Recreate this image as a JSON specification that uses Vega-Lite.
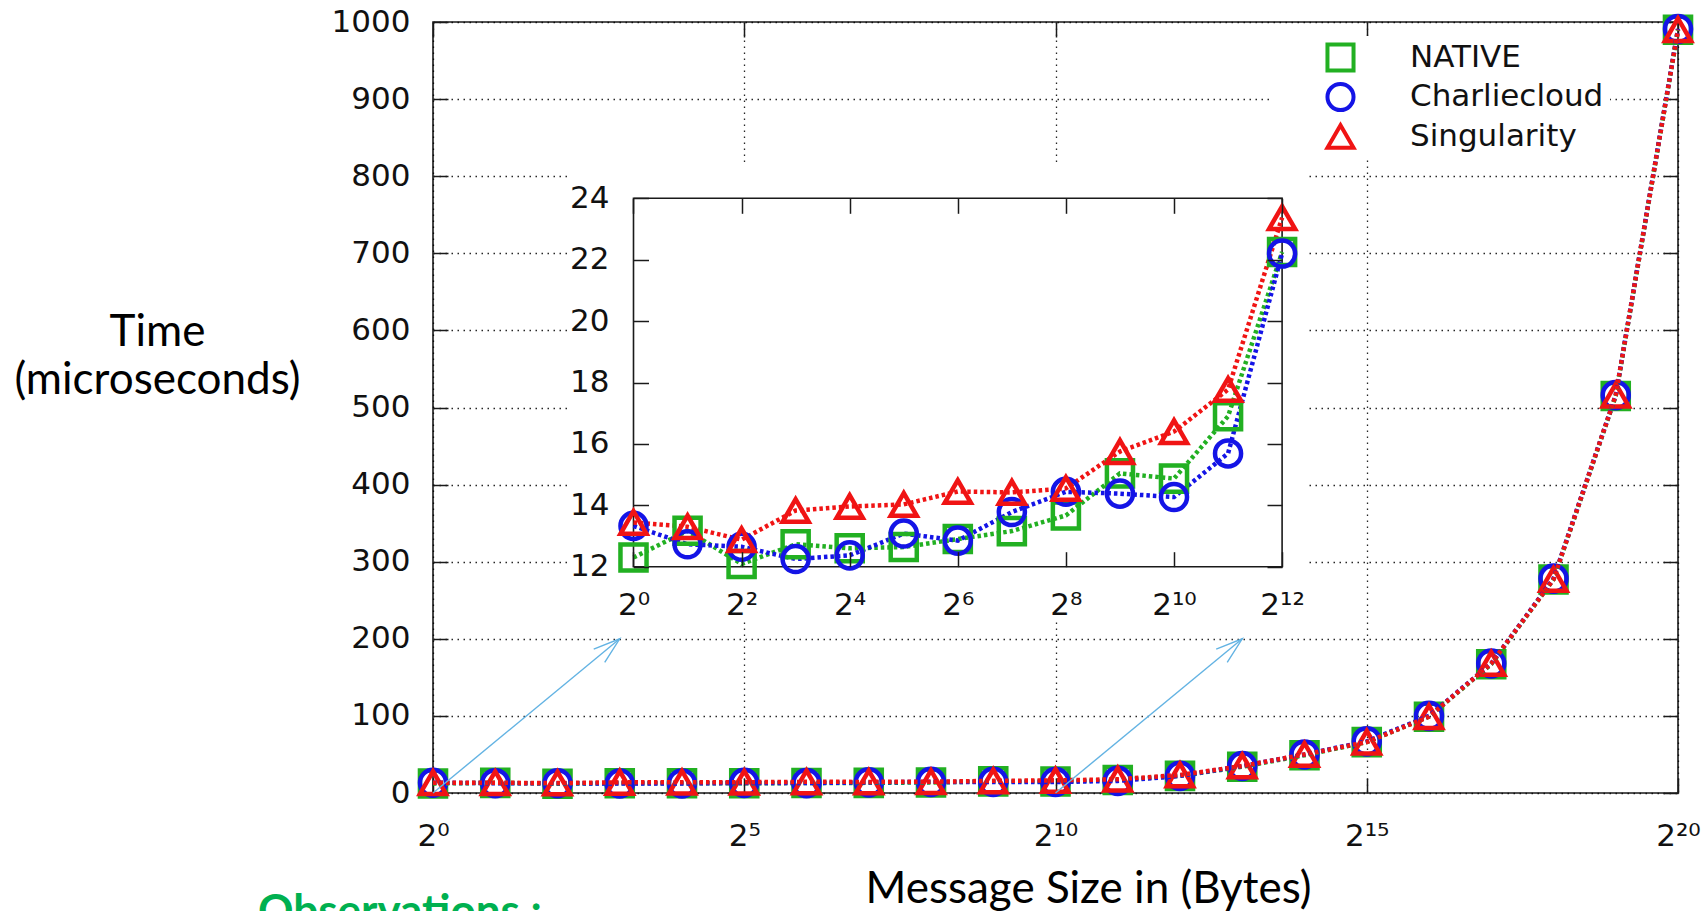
{
  "$schema": "https://vega.github.io/schema/vega-lite/v6.json",
  "width": 1245,
  "height": 771,
  "autosize": {"type": "none"},
  "padding": {"left": 433, "top": 22, "right": 30, "bottom": 118},
  "background": "white",
  "config": {
    "view": {"stroke": "#1a1a1a", "strokeWidth": 1.6},
    "axis": {
      "labelFont": "DejaVu Sans", "labelFontSize": 31, "labelColor": "#111",
      "tickColor": "#1a1a1a", "tickWidth": 1.5, "tickSize": -15,
      "domain": false, "grid": false, "labelFlush": false, "labelOverlap": false,
      "titleFont": "Lato", "titleFontSize": 44, "titleFontWeight": "normal", "titleColor": "#000"
    },
    "legend": {
      "orient": "none", "legendX": 837, "legendY": 14, "title": null,
      "fillColor": "white", "padding": 6, "symbolSize": 784, "symbolStrokeWidth": 4,
      "symbolOffset": 49, "labelOffset": 54, "labelFont": "DejaVu Sans", "labelFontSize": 31,
      "labelColor": "#111", "labelLimit": 500, "rowPadding": 7.5, "clipHeight": 31
    }
  },
  "title": {
    "text": "Observations :", "orient": "bottom", "anchor": "start", "frame": "group",
    "font": "Lato", "fontSize": 44, "fontWeight": "bold", "color": "#00b050",
    "baseline": "alphabetic", "dx": -175, "offset": 15
  },
  "datasets": {
    "perf": [
      {"series": "NATIVE", "size": 1, "time": 12.30},
      {"series": "NATIVE", "size": 2, "time": 13.17},
      {"series": "NATIVE", "size": 4, "time": 12.09},
      {"series": "NATIVE", "size": 8, "time": 12.73},
      {"series": "NATIVE", "size": 16, "time": 12.60},
      {"series": "NATIVE", "size": 32, "time": 12.64},
      {"series": "NATIVE", "size": 64, "time": 12.90},
      {"series": "NATIVE", "size": 128, "time": 13.16},
      {"series": "NATIVE", "size": 256, "time": 13.67},
      {"series": "NATIVE", "size": 512, "time": 15.04},
      {"series": "NATIVE", "size": 1024, "time": 14.87},
      {"series": "NATIVE", "size": 2048, "time": 16.90},
      {"series": "NATIVE", "size": 4096, "time": 22.25},
      {"series": "NATIVE", "size": 8192, "time": 34},
      {"series": "NATIVE", "size": 16384, "time": 49},
      {"series": "NATIVE", "size": 32768, "time": 66},
      {"series": "NATIVE", "size": 65536, "time": 99},
      {"series": "NATIVE", "size": 131072, "time": 167},
      {"series": "NATIVE", "size": 262144, "time": 277},
      {"series": "NATIVE", "size": 524288, "time": 515},
      {"series": "NATIVE", "size": 1048576, "time": 990},
      {"series": "Charliecloud", "size": 1, "time": 13.33},
      {"series": "Charliecloud", "size": 2, "time": 12.73},
      {"series": "Charliecloud", "size": 4, "time": 12.65},
      {"series": "Charliecloud", "size": 8, "time": 12.25},
      {"series": "Charliecloud", "size": 16, "time": 12.37},
      {"series": "Charliecloud", "size": 32, "time": 13.08},
      {"series": "Charliecloud", "size": 64, "time": 12.85},
      {"series": "Charliecloud", "size": 128, "time": 13.78},
      {"series": "Charliecloud", "size": 256, "time": 14.44},
      {"series": "Charliecloud", "size": 512, "time": 14.38},
      {"series": "Charliecloud", "size": 1024, "time": 14.27},
      {"series": "Charliecloud", "size": 2048, "time": 15.69},
      {"series": "Charliecloud", "size": 4096, "time": 22.20},
      {"series": "Charliecloud", "size": 8192, "time": 35},
      {"series": "Charliecloud", "size": 16384, "time": 50},
      {"series": "Charliecloud", "size": 32768, "time": 67},
      {"series": "Charliecloud", "size": 65536, "time": 100},
      {"series": "Charliecloud", "size": 131072, "time": 168},
      {"series": "Charliecloud", "size": 262144, "time": 278},
      {"series": "Charliecloud", "size": 524288, "time": 516},
      {"series": "Charliecloud", "size": 1048576, "time": 991},
      {"series": "Singularity", "size": 1, "time": 13.44},
      {"series": "Singularity", "size": 2, "time": 13.30},
      {"series": "Singularity", "size": 4, "time": 12.88},
      {"series": "Singularity", "size": 8, "time": 13.83},
      {"series": "Singularity", "size": 16, "time": 13.96},
      {"series": "Singularity", "size": 32, "time": 14.03},
      {"series": "Singularity", "size": 64, "time": 14.45},
      {"series": "Singularity", "size": 128, "time": 14.42},
      {"series": "Singularity", "size": 256, "time": 14.55},
      {"series": "Singularity", "size": 512, "time": 15.75},
      {"series": "Singularity", "size": 1024, "time": 16.40},
      {"series": "Singularity", "size": 2048, "time": 17.77},
      {"series": "Singularity", "size": 4096, "time": 23.37},
      {"series": "Singularity", "size": 8192, "time": 35},
      {"series": "Singularity", "size": 16384, "time": 50},
      {"series": "Singularity", "size": 32768, "time": 66},
      {"series": "Singularity", "size": 65536, "time": 99},
      {"series": "Singularity", "size": 131072, "time": 168},
      {"series": "Singularity", "size": 262144, "time": 277},
      {"series": "Singularity", "size": 524288, "time": 516},
      {"series": "Singularity", "size": 1048576, "time": 990}
    ],
    "arrows": [
      {"from_size": 1, "from_time": 0, "to_size": 8, "to_time": 200},
      {"from_size": 1024, "from_time": 0, "to_size": 8192, "to_time": 200}
    ]
  },
  "layer": [
    {
      "layer": [
        {
          "data": {"name": "perf"},
          "mark": {"type": "point", "filled": false, "strokeWidth": 4.5, "opacity": 1},
          "encoding": {
            "x": {
              "field": "size", "type": "quantitative",
              "scale": {"type": "log", "base": 2, "domain": [1, 1048576], "nice": false},
              "axis": {"orient": "top", "values": [1, 32, 1024, 32768, 1048576], "labels": false, "title": null}
            },
            "y": {
              "field": "time", "type": "quantitative",
              "scale": {"domain": [0, 1000], "nice": false, "zero": false},
              "axis": {"orient": "right", "values": [0, 100, 200, 300, 400, 500, 600, 700, 800, 900, 1000], "labels": false, "title": null}
            },
            "color": {
              "field": "series", "type": "nominal",
              "scale": {"domain": ["NATIVE", "Charliecloud", "Singularity"], "range": ["#22b022", "#1414e6", "#f01414"]},
              "legend": {
                "orient": "none", "legendX": 837, "legendY": 14, "title": null,
                "encode": {"symbols": {
                  "shape": {"value": {"expr": "datum.value === 'NATIVE' ? 'M-3.345,0H-3.095M-2.885,0H-2.635M-2.425,0H-2.175M-1.965,0H-1.715M-1.505,0H-1.255M-1.045,0H-0.795M-0.585,0H-0.335M-0.125,0H0.125M0.335,0H0.585M0.795,0H1.045M1.255,0H1.505M1.715,0H1.965M2.175,0H2.425M2.635,0H2.885M3.095,0H3.345M-0.9,-0.9H0.9V0.9H-0.9Z' : datum.value === 'Charliecloud' ? 'M-3.345,0H-3.095M-2.885,0H-2.635M-2.425,0H-2.175M-1.965,0H-1.715M-1.505,0H-1.255M-1.045,0H-0.795M-0.585,0H-0.335M-0.125,0H0.125M0.335,0H0.585M0.795,0H1.045M1.255,0H1.505M1.715,0H1.965M2.175,0H2.425M2.635,0H2.885M3.095,0H3.345M0.9,0A0.9,0.9,0,1,1,-0.9,0A0.9,0.9,0,1,1,0.9,0Z' : 'M-3.345,0H-3.095M-2.885,0H-2.635M-2.425,0H-2.175M-1.965,0H-1.715M-1.505,0H-1.255M-1.045,0H-0.795M-0.585,0H-0.335M-0.125,0H0.125M0.335,0H0.585M0.795,0H1.045M1.255,0H1.505M1.715,0H1.965M2.175,0H2.425M2.635,0H2.885M3.095,0H3.345M0,-1L1.15,0.95H-1.15Z'"}},
                  "fill": {"value": "transparent"},
                  "size": {"value": 784},
                  "strokeWidth": {"value": 4}
                }}
              }
            },
            "shape": {
              "field": "series", "type": "nominal",
              "scale": {"domain": ["NATIVE", "Charliecloud", "Singularity"], "range": ["square", "circle", "triangle-up"]},
              "legend": {
                "orient": "none", "legendX": 837, "legendY": 14, "title": null,
                "encode": {"symbols": {
                  "shape": {"value": {"expr": "datum.value === 'NATIVE' ? 'M-3.345,0H-3.095M-2.885,0H-2.635M-2.425,0H-2.175M-1.965,0H-1.715M-1.505,0H-1.255M-1.045,0H-0.795M-0.585,0H-0.335M-0.125,0H0.125M0.335,0H0.585M0.795,0H1.045M1.255,0H1.505M1.715,0H1.965M2.175,0H2.425M2.635,0H2.885M3.095,0H3.345M-0.9,-0.9H0.9V0.9H-0.9Z' : datum.value === 'Charliecloud' ? 'M-3.345,0H-3.095M-2.885,0H-2.635M-2.425,0H-2.175M-1.965,0H-1.715M-1.505,0H-1.255M-1.045,0H-0.795M-0.585,0H-0.335M-0.125,0H0.125M0.335,0H0.585M0.795,0H1.045M1.255,0H1.505M1.715,0H1.965M2.175,0H2.425M2.635,0H2.885M3.095,0H3.345M0.9,0A0.9,0.9,0,1,1,-0.9,0A0.9,0.9,0,1,1,0.9,0Z' : 'M-3.345,0H-3.095M-2.885,0H-2.635M-2.425,0H-2.175M-1.965,0H-1.715M-1.505,0H-1.255M-1.045,0H-0.795M-0.585,0H-0.335M-0.125,0H0.125M0.335,0H0.585M0.795,0H1.045M1.255,0H1.505M1.715,0H1.965M2.175,0H2.425M2.635,0H2.885M3.095,0H3.345M0,-1L1.15,0.95H-1.15Z'"}},
                  "fill": {"value": "transparent"},
                  "size": {"value": 784},
                  "strokeWidth": {"value": 4}
                }}
              }
            },
            "size": {
              "field": "series", "type": "nominal",
              "scale": {"domain": ["NATIVE", "Charliecloud", "Singularity"], "range": [680, 680, 900]},
              "legend": null
            }
          }
        },
        {
          "data": {"name": "perf"},
          "mark": {"type": "line", "strokeDash": [3.5, 3], "strokeWidth": 4.5},
          "encoding": {
            "x": {
              "field": "size", "type": "quantitative",
              "scale": {"type": "log", "base": 2, "domain": [1, 1048576], "nice": false},
              "axis": {
                "orient": "bottom", "values": [1, 32, 1024, 32768, 1048576],
                "grid": true, "gridDash": [1.5, 4.5], "gridColor": "#000", "gridOpacity": 0.85, "gridWidth": 1.3,
                "labelExpr": "['2⁰','2¹','2²','2³','2⁴','2⁵','2⁶','2⁷','2⁸','2⁹','2¹⁰','2¹¹','2¹²','2¹³','2¹⁴','2¹⁵','2¹⁶','2¹⁷','2¹⁸','2¹⁹','2²⁰'][round(log(datum.value)/LN2)]",
                "labelPadding": 43,
                "title": "Message Size in (Bytes)", "titleX": 655, "titleY": 109,
                "titleAlign": "center", "titleBaseline": "alphabetic"
              }
            },
            "y": {
              "field": "time", "type": "quantitative",
              "scale": {"domain": [0, 1000], "nice": false, "zero": false},
              "axis": {
                "orient": "left", "values": [0, 100, 200, 300, 400, 500, 600, 700, 800, 900, 1000],
                "format": "d",
                "grid": true, "gridDash": [1.5, 4.5], "gridColor": "#000", "gridOpacity": 0.85, "gridWidth": 1.3,
                "labelPadding": 38,
                "title": ["Time", "(microseconds)"], "titleAngle": 0, "titleX": -276, "titleY": 323,
                "titleAlign": "center", "titleBaseline": "alphabetic", "titleLineHeight": 48
              }
            },
            "color": {
              "field": "series", "type": "nominal",
              "scale": {"domain": ["NATIVE", "Charliecloud", "Singularity"], "range": ["#22b022", "#1414e6", "#f01414"]}
            }
          }
        },
        {
          "data": {"name": "arrows"},
          "mark": {"type": "rule", "color": "#63b3e3", "strokeWidth": 1.4},
          "encoding": {
            "x": {"field": "from_size", "type": "quantitative", "scale": {"type": "log", "base": 2, "domain": [1, 1048576], "nice": false}, "axis": null},
            "x2": {"field": "to_size"},
            "y": {"field": "from_time", "type": "quantitative", "scale": {"domain": [0, 1000], "nice": false, "zero": false}, "axis": null},
            "y2": {"field": "to_time"}
          }
        },
        {
          "data": {"name": "arrows"},
          "mark": {"type": "point", "shape": "M-0.951,-0.309L0,0L-0.951,0.309", "filled": false, "color": "#63b3e3", "strokeWidth": 1.4, "size": 3136, "angle": 320.45, "opacity": 1},
          "encoding": {
            "x": {"field": "to_size", "type": "quantitative", "scale": {"type": "log", "base": 2, "domain": [1, 1048576], "nice": false}, "axis": null},
            "y": {"field": "to_time", "type": "quantitative", "scale": {"domain": [0, 1000], "nice": false, "zero": false}, "axis": null}
          }
        }
      ],
      "resolve": {"axis": {"x": "independent", "y": "independent"}}
    },
    {
      "layer": [
        {
          "data": {"values": [{}]},
          "mark": {"type": "rect", "fill": "white"},
          "encoding": {
            "x": {"datum": 0.443, "type": "quantitative", "scale": {"type": "log", "base": 2, "domain": [0.07644, 656671], "nice": false}, "axis": null},
            "x2": {"datum": 5495},
            "y": {"datum": 10.33, "type": "quantitative", "scale": {"domain": [4.629, 29.743], "nice": false, "zero": false}, "axis": null},
            "y2": {"datum": 25.18}
          }
        },
        {
          "data": {"values": [{}]},
          "mark": {"type": "rect", "fillOpacity": 0, "stroke": "#1a1a1a", "strokeWidth": 1.6},
          "encoding": {
            "x": {"datum": 1, "type": "quantitative", "scale": {"type": "log", "base": 2, "domain": [0.07644, 656671], "nice": false},
                  "axis": {"orient": "top", "offset": -176.3, "values": [1, 4, 16, 64, 256, 1024, 4096], "labels": false, "title": null, "zindex": 1}},
            "x2": {"datum": 4096},
            "y": {"datum": 12, "type": "quantitative", "scale": {"domain": [4.629, 29.743], "nice": false, "zero": false},
                  "axis": {"orient": "right", "offset": -396, "values": [12, 14, 16, 18, 20, 22, 24], "labels": false, "title": null, "zindex": 1}},
            "y2": {"datum": 24}
          }
        },
        {
          "data": {"name": "perf"},
          "transform": [{"filter": "datum.size <= 4096"}],
          "mark": {"type": "line", "strokeDash": [3.5, 3], "strokeWidth": 4.5},
          "encoding": {
            "x": {"field": "size", "type": "quantitative", "scale": {"type": "log", "base": 2, "domain": [0.07644, 656671], "nice": false},
                  "axis": {"orient": "bottom", "offset": -226.3, "values": [1, 4, 16, 64, 256, 1024, 4096],
                           "labelExpr": "['2⁰','2¹','2²','2³','2⁴','2⁵','2⁶','2⁷','2⁸','2⁹','2¹⁰','2¹¹','2¹²','2¹³','2¹⁴','2¹⁵','2¹⁶','2¹⁷','2¹⁸','2¹⁹','2²⁰'][round(log(datum.value)/LN2)]",
                           "labelPadding": 39, "title": null, "zindex": 1}},
            "y": {"field": "time", "type": "quantitative", "scale": {"domain": [4.629, 29.743], "nice": false, "zero": false},
                  "axis": {"orient": "left", "offset": -200.5, "values": [12, 14, 16, 18, 20, 22, 24], "labelPadding": 39.5, "title": null, "zindex": 1}},
            "color": {"field": "series", "type": "nominal", "scale": {"domain": ["NATIVE", "Charliecloud", "Singularity"], "range": ["#22b022", "#1414e6", "#f01414"]}}
          }
        },
        {
          "data": {"name": "perf"},
          "transform": [{"filter": "datum.size <= 4096"}],
          "mark": {"type": "point", "filled": false, "strokeWidth": 4.5, "opacity": 1},
          "encoding": {
            "x": {"field": "size", "type": "quantitative", "scale": {"type": "log", "base": 2, "domain": [0.07644, 656671], "nice": false}, "axis": null},
            "y": {"field": "time", "type": "quantitative", "scale": {"domain": [4.629, 29.743], "nice": false, "zero": false}, "axis": null},
            "color": {"field": "series", "type": "nominal", "scale": {"domain": ["NATIVE", "Charliecloud", "Singularity"], "range": ["#22b022", "#1414e6", "#f01414"]}},
            "shape": {"field": "series", "type": "nominal", "scale": {"domain": ["NATIVE", "Charliecloud", "Singularity"], "range": ["square", "circle", "triangle-up"]}},
            "size": {"field": "series", "type": "nominal", "scale": {"domain": ["NATIVE", "Charliecloud", "Singularity"], "range": [680, 680, 900]}, "legend": null}
          }
        }
      ],
      "resolve": {"axis": {"x": "independent", "y": "independent"}}
    }
  ],
  "resolve": {"scale": {"x": "independent", "y": "independent"}}
}
